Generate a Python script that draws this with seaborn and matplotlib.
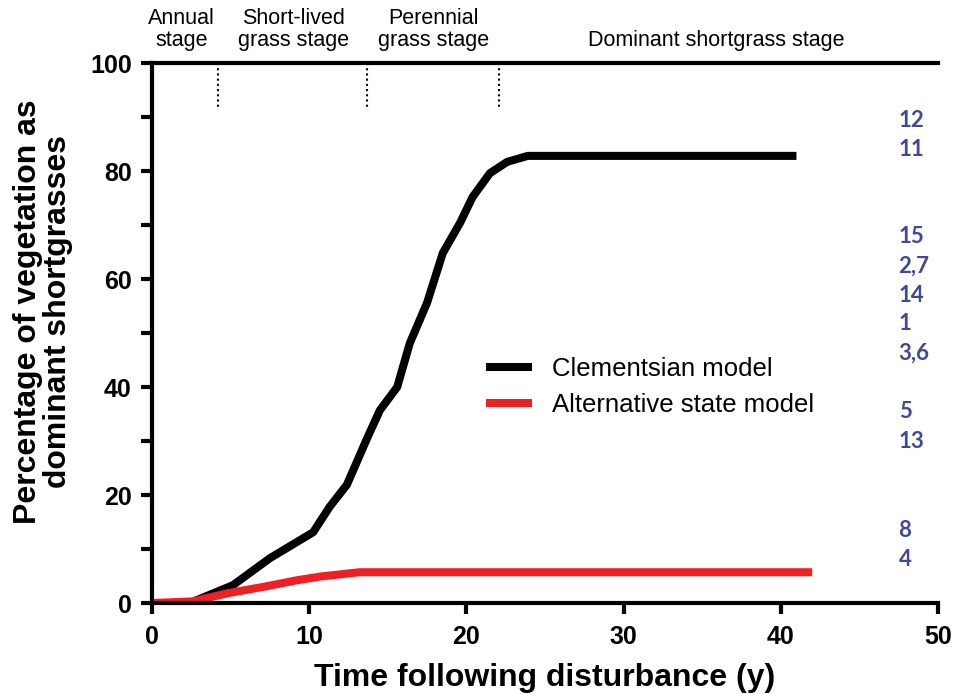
import numpy as np
import pandas as pd
import matplotlib
matplotlib.use("Agg")
import matplotlib.pyplot as plt
import seaborn as sns

# ---- data ----
clem_x = [0, 2.4, 5.15, 7.5, 10.25, 11.3, 12.4, 13.7, 14.5, 15.6, 16.4, 17.5, 18.5, 19.6, 20.4, 21.5, 22.6, 23.9, 41.0]
clem_y = [0, 0, 3.3, 8.3, 13.1, 17.8, 21.9, 30.6, 35.7, 40.0, 48.1, 55.6, 64.8, 70.4, 75.2, 79.6, 81.7, 82.8, 82.8]
alt_x = [0, 2.6, 4.8, 7.1, 9.2, 10.7, 13.2, 42.0]
alt_y = [0, 0.3, 1.8, 3.0, 4.2, 4.9, 5.7, 5.7]
series_names = ["Clementsian model", "Alternative state model"]
series_colors = ["#000000", "#ee2024"]

stage_labels = ["Annual\nstage", "Short-lived\ngrass stage", "Perennial\ngrass stage", "Dominant shortgrass stage"]
stage_centers = [1.9, 9.0, 17.9, 35.9]
stage_bounds = [4.2, 13.7, 22.1]

site_labels = ["12", "11", "15", "2,7", "14", "1", "3,6", "5", "13", "8", "4"]
site_y = [89.4, 83.9, 67.8, 62.4, 57.0, 51.7, 46.3, 35.4, 30.0, 13.5, 8.1]

x_ticks = [0, 10, 20, 30, 40, 50]
y_ticks = [0, 20, 40, 60, 80, 100]

df = pd.concat([
    pd.DataFrame({"t": clem_x, "pct": clem_y, "model": series_names[0]}),
    pd.DataFrame({"t": alt_x, "pct": alt_y, "model": series_names[1]}),
])

sns.set_style("ticks")
plt.rcParams["font.family"] = ["Liberation Sans", "DejaVu Sans"]
plt.rcParams["text.color"] = "black"
plt.rcParams["axes.labelcolor"] = "black"
plt.rcParams["xtick.color"] = "black"
plt.rcParams["ytick.color"] = "black"

fig = plt.figure(figsize=(9.59, 6.94), dpi=100)
ax = fig.add_axes([0.1585, 0.1311, 0.978 - 0.1585, 0.9092 - 0.1311])

sns.lineplot(data=df, x="t", y="pct", hue="model", palette=dict(zip(series_names, series_colors)),
             linewidth=5.8, sort=False, estimator=None, ax=ax, legend=True,
             solid_joinstyle="round", solid_capstyle="butt")

ax.set_xlim(0, 50)
ax.set_ylim(0, 100)
ax.set_xticks(x_ticks)
ax.set_yticks(y_ticks)
ax.set_yticks([10, 30, 50, 70, 90], minor=True)
ax.tick_params(axis="both", which="both", width=3, length=8, direction="out", color="black")
ax.tick_params(axis="both", which="major", labelsize=18, labelcolor="black")
ax.tick_params(axis="x", which="major", pad=8)
ax.tick_params(axis="y", which="major", pad=6.5)
for lab in ax.get_xticklabels() + ax.get_yticklabels():
    lab.set_fontweight("bold")

for side in ["left", "bottom", "top"]:
    ax.spines[side].set_linewidth(3)
    ax.spines[side].set_color("black")
ax.spines["right"].set_visible(False)
ax.spines["left"].set_zorder(5)

ax.set_xlabel("Time following disturbance (y)", fontsize=23, fontweight="bold", labelpad=10)
ax.set_ylabel("Percentage of vegetation as\ndominant shortgrasses", fontsize=23, fontweight="bold",
              linespacing=1.0)
ax.yaxis.set_label_coords(-0.1, 0.54)

for b in stage_bounds:
    ax.plot([b, b], [100, 91.3], linestyle=(0, (1, 1.5)), color="black", linewidth=1.5)

for lbl, cx in zip(stage_labels, stage_centers):
    ax.text(cx, 102.3, lbl, ha="center", va="bottom", fontsize=15.5, linespacing=1.05, clip_on=False)

for lbl, yy in zip(site_labels, site_y):
    ax.text(47.5, yy, lbl, ha="left", va="center", fontsize=16, fontweight="bold",
            color="#3f4997", family=["Lato", "DejaVu Sans"])

leg = ax.legend(loc="center left", bbox_to_anchor=(0.395, 0.40), frameon=False, fontsize=18.5,
                handlelength=1.8, handletextpad=0.8, labelspacing=0.45)
for h in leg.get_lines():
    h.set_linewidth(5.8)

fig.savefig("out.png", dpi=100)
